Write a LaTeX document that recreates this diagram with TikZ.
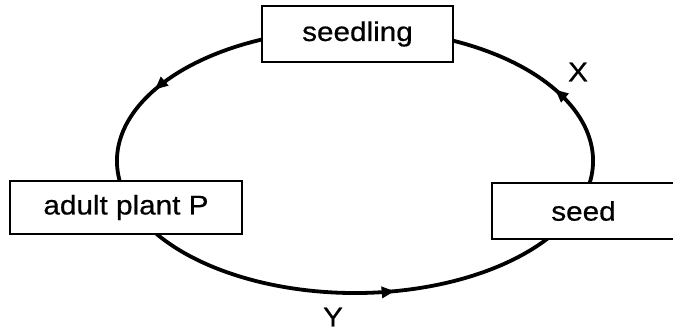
\documentclass[tikz,border=0pt]{standalone}
\usepackage{fontspec}
\setmainfont{Liberation Sans}[FakeStretch=1.1, FakeBold=0.6]
\usetikzlibrary{arrows.meta, decorations.markings, backgrounds, positioning}

\begin{document}
\begin{tikzpicture}[
    x=1pt, y=1pt,
    stage/.style={rectangle, draw=black, line width=2pt, fill=white, inner sep=0pt, text centered, font=\fontsize{27}{32}\selectfont},
    cycleline/.style={line width=3.8pt},
    midarrow/.style={postaction={decorate}, decoration={markings, mark=at position #1 with {\arrow{Triangle[length=13pt,width=11pt]}}}},
    steplabel/.style={font=\fontsize{27}{32}\selectfont}
]
    \useasboundingbox (0,0) rectangle (673,331);

    \coordinate (hub) at (355,170);

    \node[stage, minimum width=191pt, minimum height=56pt] (seedling) at (357.5,297) {seedling};
    \node[stage, minimum width=232pt, minimum height=53pt] (adult) at (126,123.5) {adult plant P};
    \node[stage, minimum width=183pt, minimum height=56pt] (seed) at (583.5,120) {seed};

    \node[steplabel] (labelX) at (578,259) {X};
    \node[steplabel] (labelY) at (333,14) {Y};

    \begin{scope}[on background layer]
    \draw[cycleline, midarrow=0.56] (hub) ++(105:238 and 132) arc[start angle=105, end angle=195, x radius=238, y radius=132];
    \draw[cycleline, midarrow=0.58] (hub) ++(200:238 and 132) arc[start angle=200, end angle=340, x radius=238, y radius=132];
    \draw[cycleline, midarrow=0.44] (hub) ++(-15:238 and 132) arc[start angle=-15, end angle=75, x radius=238, y radius=132];
    \end{scope}

\end{tikzpicture}
\end{document}
